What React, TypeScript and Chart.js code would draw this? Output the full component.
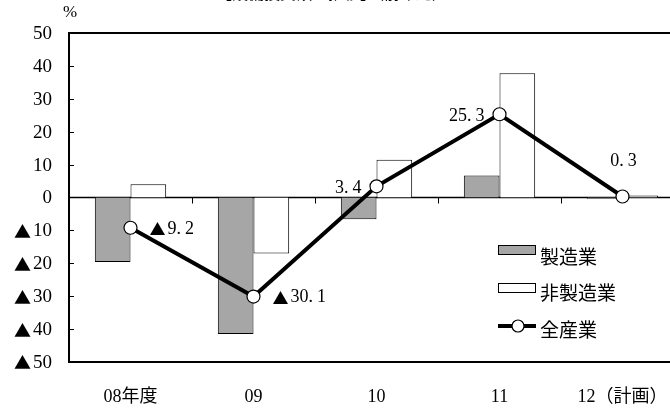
import React, { useEffect, useRef } from "react";
import { Chart, registerables } from "chart.js";

Chart.register(...registerables);

const categories = ["08年度", "09", "10", "11", "12（計画）"];
const manufacturing = [-19.6, -41.5, -6.6, 6.7, -0.4];
const nonManufacturing = [4.0, -17.0, 11.5, 37.8, 0.6];
const allIndustries = [-9.2, -30.1, 3.4, 25.3, 0.3];
const labelPlacement = ["right", "right", "left", "left", "top"];
const seriesNames = ["製造業", "非製造業", "全産業"];
const yMin = -50;
const yMax = 50;
const yStep = 10;
const unitLabel = "%";
const negMark = "▲";
const titleText = "【設備投資額の推移】（前年比）";

const FONT = "'Liberation Serif', 'Noto Sans CJK JP', serif";
const JFONT = "'Noto Sans CJK JP', 'Liberation Serif', serif";

type Seg = { t: string; f: string; gap: number };

function segsFor(v: number, size: number, decimals: boolean): Seg[] {
  const segs: Seg[] = [];
  if (v < 0) segs.push({ t: negMark, f: `${size - 2}px ${JFONT}`, gap: 2 });
  const a = Math.abs(v);
  if (decimals) {
    const [ip, dp] = a.toFixed(1).split(".");
    segs.push({ t: ip + ".", f: `${size}px ${FONT}`, gap: 4 });
    segs.push({ t: dp, f: `${size}px ${FONT}`, gap: 0 });
  } else {
    segs.push({ t: String(a), f: `${size}px ${FONT}`, gap: 0 });
  }
  return segs;
}

function drawSegs(ctx: any, segs: Seg[], x: number, y: number, align: string) {
  let total = 0;
  const widths = segs.map((s) => {
    ctx.font = s.f;
    return ctx.measureText(s.t).width;
  });
  segs.forEach((s, i) => (total += widths[i] + (i < segs.length - 1 ? s.gap : 0)));
  let cx = align === "left" ? x : align === "right" ? x - total : x - total / 2;
  ctx.textAlign = "left";
  ctx.textBaseline = "middle";
  segs.forEach((s, i) => {
    ctx.font = s.f;
    ctx.fillText(s.t, cx, y);
    cx += widths[i] + s.gap;
  });
}

const decorPlugin = {
  id: "decor",
  beforeDatasetsDraw(chart: any) {
    const { ctx, chartArea, scales } = chart;
    const y = scales.y;
    const x = scales.x;
    const y0 = y.getPixelForValue(0);
    ctx.save();
    ctx.strokeStyle = "#000";
    ctx.lineWidth = 2;
    ctx.beginPath();
    ctx.moveTo(chartArea.left - 1, chartArea.top);
    ctx.lineTo(chartArea.right, chartArea.top);
    ctx.stroke();
    ctx.lineWidth = 1.6;
    ctx.beginPath();
    ctx.moveTo(chartArea.left, y0);
    ctx.lineTo(chartArea.right, y0);
    ctx.stroke();
    ctx.lineWidth = 1;
    for (let v = yMin + yStep; v < yMax; v += yStep) {
      if (v === 0) continue;
      const py = Math.round(y.getPixelForValue(v)) + 0.5;
      ctx.beginPath();
      ctx.moveTo(chartArea.left, py);
      ctx.lineTo(chartArea.left + 5, py);
      ctx.stroke();
    }
    const step = x.getPixelForValue(1) - x.getPixelForValue(0);
    for (let i = 0; i < categories.length; i++) {
      const px = Math.round(x.getPixelForValue(i) + step / 2) + 0.5;
      ctx.beginPath();
      ctx.moveTo(px, y0);
      ctx.lineTo(px, y0 + 6);
      ctx.stroke();
    }
    ctx.fillStyle = "#000";
    y.ticks.forEach((t: any) => {
      const py = y.getPixelForValue(t.value);
      drawSegs(ctx, segsFor(t.value, 19, false), chartArea.left - 17, py + 1, "right");
    });
    ctx.restore();
  },
  afterDatasetsDraw(chart: any) {
    const { ctx, chartArea } = chart;
    const meta = chart.getDatasetMeta(2);
    ctx.save();
    ctx.fillStyle = "#000";
    meta.data.forEach((pt: any, i: number) => {
      const segs = segsFor(allIndustries[i], 18, true);
      const p = labelPlacement[i];
      if (p === "right") drawSegs(ctx, segs, pt.x + 19, pt.y + 1, "left");
      else if (p === "left") drawSegs(ctx, segs, pt.x - 15, pt.y + 2, "right");
      else drawSegs(ctx, segs, pt.x + 1, pt.y - 35, "center");
    });
    ctx.font = `17px ${FONT}`;
    ctx.textAlign = "center";
    ctx.textBaseline = "middle";
    ctx.fillText(unitLabel, chartArea.left + 1, 13);
    ctx.font = `16px ${JFONT}`;
    ctx.textBaseline = "alphabetic";
    ctx.fillText(titleText, 332, -1);
    const lx = 498;
    const lw = 37;
    const rows = [250, 288, 326];
    ctx.lineWidth = 1;
    ctx.strokeStyle = "#000";
    ctx.fillStyle = "#a6a6a6";
    ctx.fillRect(lx, rows[0] - 4.5, lw, 9);
    ctx.strokeRect(lx + 0.5, rows[0] - 4.5, lw, 9);
    ctx.fillStyle = "#fff";
    ctx.fillRect(lx, rows[1] - 4.5, lw, 9);
    ctx.strokeRect(lx + 0.5, rows[1] - 4.5, lw, 9);
    ctx.lineWidth = 4;
    ctx.beginPath();
    ctx.moveTo(lx, rows[2]);
    ctx.lineTo(lx + lw + 1, rows[2]);
    ctx.stroke();
    ctx.lineWidth = 1.2;
    ctx.beginPath();
    ctx.arc(lx + 20, rows[2], 6, 0, Math.PI * 2);
    ctx.fillStyle = "#fff";
    ctx.fill();
    ctx.stroke();
    ctx.fillStyle = "#000";
    ctx.font = `19px ${JFONT}`;
    ctx.textAlign = "left";
    ctx.textBaseline = "middle";
    ctx.fillText(seriesNames[0], 540, rows[0] + 7);
    ctx.fillText(seriesNames[1], 540, rows[1] + 5);
    ctx.fillText(seriesNames[2], 540, rows[2] + 4);
    ctx.restore();
  },
};

export default function App() {
  const ref = useRef<HTMLCanvasElement | null>(null);
  useEffect(() => {
    if (!ref.current) return;
    const chart = new Chart(ref.current, {
      type: "bar",
      data: {
        labels: categories,
        datasets: [
          {
            label: seriesNames[0],
            data: manufacturing,
            backgroundColor: "#a6a6a6",
            borderColor: "#000",
            borderWidth: 1,
            barPercentage: 1,
            categoryPercentage: 0.58,
            order: 2,
          },
          {
            label: seriesNames[1],
            data: nonManufacturing,
            backgroundColor: "#ffffff",
            borderColor: "#000",
            borderWidth: 1,
            barPercentage: 1,
            categoryPercentage: 0.58,
            order: 2,
          },
          {
            type: "line",
            label: seriesNames[2],
            data: allIndustries,
            borderColor: "#000",
            borderWidth: 4,
            pointRadius: 6.5,
            pointBackgroundColor: "#fff",
            pointBorderColor: "#000",
            pointBorderWidth: 1.2,
            tension: 0,
            order: 0,
          } as any,
        ],
      },
      options: {
        animation: false,
        responsive: false,
        devicePixelRatio: 1,
        layout: { padding: { top: 33, right: 16, left: 0, bottom: 0 } },
        plugins: {
          legend: { display: false },
          tooltip: { enabled: false },
          title: { display: false },
        },
        scales: {
          x: {
            grid: { display: false, drawTicks: false },
            border: { display: true, color: "#000", width: 2 },
            ticks: {
              color: "#000",
              font: { family: FONT, size: 18 },
              padding: 24,
              maxRotation: 0,
              autoSkip: false,
            },
            afterFit: (s: any) => {
              s.height = 46;
            },
          },
          y: {
            min: yMin,
            max: yMax,
            grid: { display: false, drawTicks: false },
            border: { display: true, color: "#000", width: 2 },
            ticks: {
              stepSize: yStep,
              display: false,
            },
            afterFit: (s: any) => {
              s.width = 69;
            },
          },
        },
      },
      plugins: [decorPlugin],
    });
    return () => chart.destroy();
  }, []);
  return (
    <div
      style={{
        position: "fixed",
        left: 0,
        top: 0,
        width: 670,
        height: 408,
        overflow: "hidden",
        background: "#fff",
      }}
    >
      <canvas ref={ref} width={700} height={408} style={{ display: "block" }} />
    </div>
  );
}
